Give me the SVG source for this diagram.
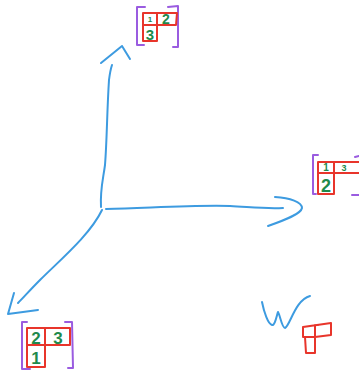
<svg xmlns="http://www.w3.org/2000/svg" width="359" height="371" viewBox="0 0 359 371">
<style>
.ax{fill:none;stroke:#3d9be0;stroke-width:2;stroke-linecap:round;stroke-linejoin:round}
.br{fill:none;stroke:#9a5ce0;stroke-width:2;stroke-linecap:round;stroke-linejoin:round}
.gr{fill:none;stroke:#e8352b;stroke-width:2;stroke-linecap:round;stroke-linejoin:round}
.t{fill:#1f8a4c;font-family:"Liberation Sans",Arial,sans-serif;font-weight:bold;text-anchor:middle}
</style>
<rect width="359" height="371" fill="#ffffff"/>
<g id="connectors">
<path class="ax" d="M101,207 C100,190 103,180 105,165 C107,140 107,110 109,80 C110,72 111,68 112,65"/>
<path class="ax" d="M101,63 L122,46 L130,59"/>
<path class="ax" d="M106,209 C150,208 190,205 230,206 C250,207 265,209 283,208"/>
<path class="ax" d="M275,197 C290,198 302,202 302,208 C301,214 285,220 268,226"/>
<path class="ax" d="M102,210 C90,235 60,260 40,280 C30,290 24,297 18,303"/>
<path class="ax" d="M14,293 L8,314 L38,310"/>
</g>
<g id="node-top">
<path class="br" d="M145,7 L137,7 L137,45 L144,45"/>
<path class="br" d="M168,7 L178,6 L178,47 L173,47"/>
<path class="gr" d="M143,13 L177,13 L176,25 L143,25 Z M157,13 L157,41 L143,41 L143,25"/>
<text class="t" x="150" y="22" font-size="8">1</text>
<text class="t" x="166" y="24" font-size="14">2</text>
<text class="t" x="150" y="40" font-size="15">3</text>
</g>
<g id="node-right">
<path class="br" d="M318,155 L313,155 L313,194 L316,194"/>
<path class="br" d="M355,157 L359,156 M352,195 L359,195"/>
<path class="gr" d="M359,162 L318,162 L318,194 L334,194 L334,162 M318,173 L359,173"/>
<text class="t" x="326" y="171" font-size="10">1</text>
<text class="t" x="344" y="171" font-size="9">3</text>
<text class="t" x="326" y="192" font-size="18">2</text>
</g>
<g id="node-bottom-left">
<path class="br" d="M27,322 L22,322 L22,369 L30,369"/>
<path class="br" d="M65,322 L72,322 L73,368 L68,368"/>
<path class="gr" d="M27,328 L70,328 L70,345 L27,345 Z M45,328 L45,367 L27,367 L27,345"/>
<text class="t" x="36" y="344" font-size="17">2</text>
<text class="t" x="58" y="344" font-size="17">3</text>
<text class="t" x="36" y="364" font-size="17">1</text>
</g>
<g id="node-w">
<path class="ax" d="M262,302 C264,312 268,324 272,325 C275,326 277,314 278,312 C280,315 282,328 285,328 C290,326 295,300 310,296"/>
<path class="gr" d="M303,327 L331,323 L331,335 L315,337 L303,337 Z M315,325 L315,353 L306,353 L305,337"/>
<circle cx="318" cy="325" r="0.8" fill="#e8352b"/>
</g>
</svg>
